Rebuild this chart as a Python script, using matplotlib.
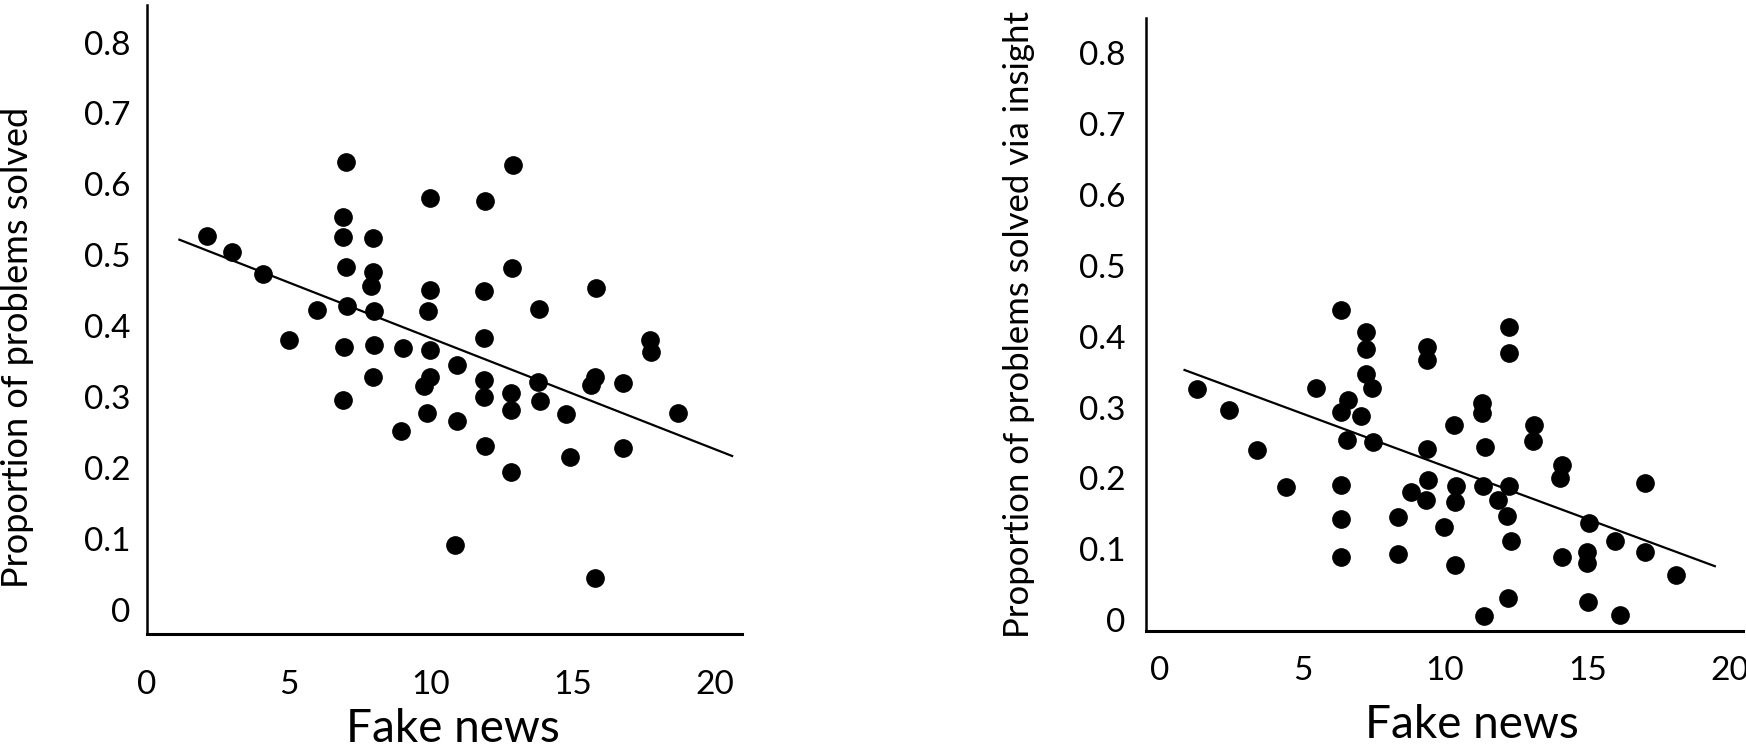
import matplotlib
matplotlib.use("Agg")
import matplotlib.pyplot as plt

plt.rcParams['font.family'] = ['Lato', 'DejaVu Sans']

# left panel: fake news score vs proportion of problems solved
fake_left = [2.1, 3.0, 4.1, 5.0, 6.0, 7.0, 6.9, 6.9, 7.0, 7.05,
             6.95, 6.9, 7.95, 7.95, 7.9, 8.0, 8.0, 7.95, 9.0, 8.95,
             9.95, 9.95, 9.9, 9.95, 9.97, 9.75, 9.85, 10.9, 10.9, 10.85,
             11.9, 11.85, 11.85, 11.85, 11.85, 11.9, 12.9, 12.85, 12.8, 12.8,
             12.8, 13.8, 13.75, 13.85, 14.75, 14.9, 15.8, 15.78, 15.64, 15.78,
             16.75, 16.75, 17.7, 17.75, 18.7]
solved = [0.527, 0.505, 0.473, 0.381, 0.423, 0.631, 0.554, 0.526, 0.484, 0.429,
          0.371, 0.296, 0.524, 0.477, 0.456, 0.422, 0.374, 0.328, 0.369, 0.252,
          0.581, 0.451, 0.421, 0.367, 0.329, 0.315, 0.277, 0.345, 0.266, 0.091,
          0.576, 0.450, 0.384, 0.324, 0.300, 0.231, 0.628, 0.482, 0.306, 0.282,
          0.195, 0.424, 0.322, 0.294, 0.276, 0.216, 0.454, 0.329, 0.317, 0.045,
          0.320, 0.228, 0.380, 0.364, 0.277]
trend_left_x = [1.14, 20.6]
trend_left_y = [0.522, 0.217]

# right panel: fake news score vs proportion solved via insight
fake_right = [1.29, 2.42, 3.39, 4.41, 5.48, 6.35, 6.35, 6.35, 6.35, 6.35,
              6.59, 6.55, 7.06, 7.23, 7.23, 7.23, 7.45, 7.49, 8.34, 8.34,
              8.79, 9.32, 9.38, 9.38, 9.38, 9.42, 9.96, 10.31, 10.39, 10.35,
              10.35, 11.29, 11.29, 11.42, 11.33, 11.36, 11.85, 12.26, 12.26, 12.26,
              12.16, 12.3, 12.2, 13.12, 13.08, 14.09, 14.05, 14.09, 15.07, 14.99,
              14.99, 15.03, 15.96, 16.14, 17.02, 17.02, 18.11]
insight = [0.326, 0.296, 0.240, 0.188, 0.328, 0.437, 0.294, 0.191, 0.142, 0.089,
           0.310, 0.254, 0.288, 0.406, 0.382, 0.347, 0.327, 0.252, 0.145, 0.093,
           0.181, 0.169, 0.386, 0.367, 0.241, 0.197, 0.132, 0.275, 0.189, 0.166,
           0.077, 0.306, 0.292, 0.244, 0.189, 0.005, 0.169, 0.414, 0.377, 0.189,
           0.147, 0.111, 0.031, 0.275, 0.253, 0.219, 0.200, 0.089, 0.137, 0.096,
           0.081, 0.025, 0.112, 0.007, 0.193, 0.096, 0.063]
trend_right_x = [0.86, 19.47]
trend_right_y = [0.353, 0.076]

x_ticks = [0, 5, 10, 15, 20]
y_ticks = [0, 0.1, 0.2, 0.3, 0.4, 0.5, 0.6, 0.7, 0.8]
y_tick_labels = ['0', '0.1', '0.2', '0.3', '0.4', '0.5', '0.6', '0.7', '0.8']

fig = plt.figure(figsize=(17.46, 7.5), dpi=100)
ax1 = fig.add_axes([0.0842, 0.1547, 0.3408, 0.8387])
ax2 = fig.add_axes([0.6564, 0.1587, 0.3419, 0.8173])


def style(ax, ylabel, ypad, xpad, ysize):
    for side in ['top', 'right']:
        ax.spines[side].set_visible(False)
    ax.spines['left'].set_linewidth(1.8)
    ax.spines['bottom'].set_linewidth(2.2)
    ax.set_xticks(x_ticks)
    ax.set_yticks(y_ticks)
    ax.set_yticklabels(y_tick_labels)
    ax.tick_params(axis='y', length=0, pad=ypad, labelsize=24)
    ax.tick_params(axis='x', length=0, pad=xpad, labelsize=24)
    ax.set_xlabel('Fake news', fontsize=33)
    ax.set_ylabel(ylabel, fontsize=ysize)
    ax.xaxis.label.set_va('center')
    ax.yaxis.label.set_va('center')


ax1.scatter(fake_left, solved, s=155, c='black', zorder=3)
ax1.plot(trend_left_x, trend_left_y, color='black', lw=1.6)
ax1.set_xlim(0, 20.95)
ax1.set_ylim(-0.034, 0.853)
style(ax1, 'Proportion of problems solved', 12, 26, 26)
ax1.xaxis.set_label_coords(0.514, -0.151)
ax1.yaxis.set_label_coords(-0.217, 0.455)

ax2.scatter(fake_right, insight, s=155, c='black', zorder=3)
ax2.plot(trend_right_x, trend_right_y, color='black', lw=1.6)
ax2.set_xlim(-0.49, 20.46)
ax2.set_ylim(-0.0155, 0.85)
style(ax2, 'Proportion of problems solved via insight', 15, 18, 25)
ax2.xaxis.set_label_coords(0.546, -0.153)
ax2.yaxis.set_label_coords(-0.213, 0.5)

fig.savefig('out.png', dpi=100)
